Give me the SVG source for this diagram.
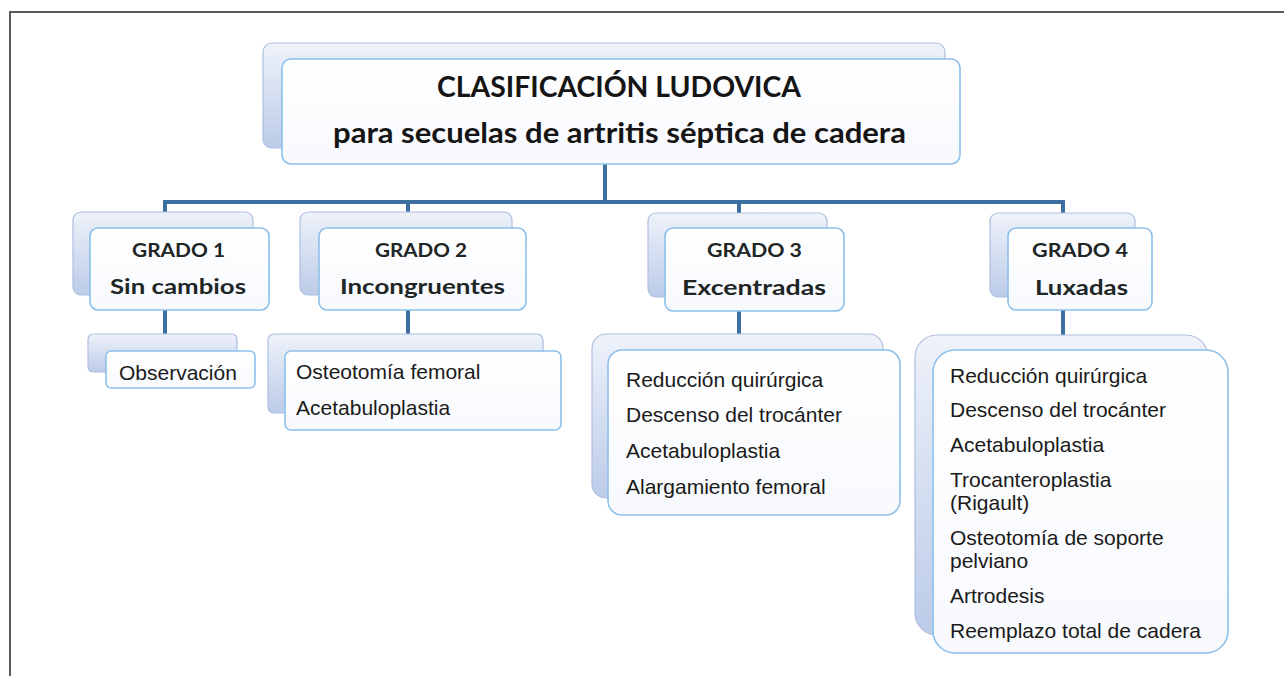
<svg xmlns="http://www.w3.org/2000/svg" width="1284" height="676" viewBox="0 0 1284 676">
<defs>
<linearGradient id="gBack" x1="0" y1="0" x2="0" y2="1">
<stop offset="0" stop-color="#eef2fa"/>
<stop offset="1" stop-color="#bccbe8"/>
</linearGradient>
<linearGradient id="gFront" x1="0" y1="0" x2="0" y2="1">
<stop offset="0" stop-color="#ffffff"/>
<stop offset="1" stop-color="#f7f9fd"/>
</linearGradient>
</defs>
<style>
.back{fill:url(#gBack);stroke:#aebfdf;stroke-width:1.2}
.front{fill:url(#gFront);stroke:#8cc0ea;stroke-width:1.6}
.conn{fill:none;stroke:#3d70a0;stroke-width:4}
.frame{fill:none;stroke:#5c5c5c;stroke-width:2}
.tt{font-family:Lato,"Open Sans",sans-serif;font-weight:bold;fill:#151515;text-anchor:middle}
.tg{font-family:Lato,"Open Sans",sans-serif;font-weight:bold;fill:#1e2626;text-anchor:middle}
.tl{font-family:"Liberation Sans",Arial,sans-serif;font-size:21px;fill:#1a1a1a}
</style>
<rect width="1284" height="676" fill="#ffffff"/>
<path class="frame" d="M10 676 V12 H1284"/>

<g id="connectors">
<path class="conn" d="M605 164 V202"/>
<path class="conn" d="M165 213 V202 H1063 V213"/>
<path class="conn" d="M408 202 V213"/>
<path class="conn" d="M739 202 V213"/>
<path class="conn" d="M165 310 V334"/>
<path class="conn" d="M408 310 V334"/>
<path class="conn" d="M739 311 V334"/>
<path class="conn" d="M1063 310 V335"/>
</g>

<g id="root">
<rect class="back" x="263" y="43" width="682" height="105" rx="9"/>
<rect class="front" x="282" y="59" width="678" height="105" rx="9"/>
<text class="tt" x="619" y="97" font-size="28" textLength="364" lengthAdjust="spacingAndGlyphs">CLASIFICACIÓN LUDOVICA</text>
<text class="tt" x="619.5" y="143" font-size="28" textLength="573" lengthAdjust="spacingAndGlyphs">para secuelas de artritis séptica de cadera</text>
</g>

<g id="grado1">
<rect class="back" x="73" y="212" width="180" height="83" rx="8"/>
<rect class="front" x="90" y="228" width="179" height="82" rx="8"/>
<text class="tg" x="178.5" y="257" font-size="19" textLength="93" lengthAdjust="spacingAndGlyphs">GRADO 1</text>
<text class="tg" x="178" y="294" font-size="21" textLength="136" lengthAdjust="spacingAndGlyphs">Sin cambios</text>
</g>

<g id="grado2">
<rect class="back" x="300" y="212" width="212" height="83" rx="8"/>
<rect class="front" x="319" y="228" width="207" height="82" rx="8"/>
<text class="tg" x="421" y="257" font-size="19" textLength="92" lengthAdjust="spacingAndGlyphs">GRADO 2</text>
<text class="tg" x="422.5" y="294" font-size="21" textLength="165" lengthAdjust="spacingAndGlyphs">Incongruentes</text>
</g>

<g id="grado3">
<rect class="back" x="648" y="213" width="179" height="84" rx="8"/>
<rect class="front" x="665" y="228" width="179" height="83" rx="8"/>
<text class="tg" x="754.5" y="257" font-size="19" textLength="95" lengthAdjust="spacingAndGlyphs">GRADO 3</text>
<text class="tg" x="754" y="295" font-size="21" textLength="144" lengthAdjust="spacingAndGlyphs">Excentradas</text>
</g>

<g id="grado4">
<rect class="back" x="990" y="213" width="145" height="84" rx="8"/>
<rect class="front" x="1008" y="228" width="144" height="82" rx="8"/>
<text class="tg" x="1080" y="257" font-size="19" textLength="96" lengthAdjust="spacingAndGlyphs">GRADO 4</text>
<text class="tg" x="1081.5" y="295" font-size="21" textLength="93" lengthAdjust="spacingAndGlyphs">Luxadas</text>
</g>

<g id="leaf1">
<rect class="back" x="88" y="334" width="149" height="38" rx="5"/>
<rect class="front" x="106" y="351" width="149" height="37" rx="5"/>
<text class="tl" x="119" y="380">Observación</text>
</g>

<g id="leaf2">
<rect class="back" x="268" y="334" width="275" height="79" rx="6"/>
<rect class="front" x="285" y="351" width="276" height="79" rx="6"/>
<text class="tl" x="296" y="379">Osteotomía femoral</text>
<text class="tl" x="296" y="415">Acetabuloplastia</text>
</g>

<g id="leaf3">
<rect class="back" x="592" y="334" width="291" height="164" rx="14"/>
<rect class="front" x="608" y="350" width="292" height="165" rx="14"/>
<text class="tl" x="626" y="387">Reducción quirúrgica</text>
<text class="tl" x="626" y="422">Descenso del trocánter</text>
<text class="tl" x="626" y="458">Acetabuloplastia</text>
<text class="tl" x="626" y="494">Alargamiento femoral</text>
</g>

<g id="leaf4">
<rect class="back" x="915" y="335" width="293" height="300" rx="22"/>
<rect class="front" x="933" y="350" width="295" height="303" rx="22"/>
<text class="tl" x="950" y="383">Reducción quirúrgica</text>
<text class="tl" x="950" y="417">Descenso del trocánter</text>
<text class="tl" x="950" y="452">Acetabuloplastia</text>
<text class="tl" x="950" y="487">Trocanteroplastia</text>
<text class="tl" x="950" y="510">(Rigault)</text>
<text class="tl" x="950" y="545">Osteotomía de soporte</text>
<text class="tl" x="950" y="568">pelviano</text>
<text class="tl" x="950" y="603">Artrodesis</text>
<text class="tl" x="950" y="638">Reemplazo total de cadera</text>
</g>
</svg>
